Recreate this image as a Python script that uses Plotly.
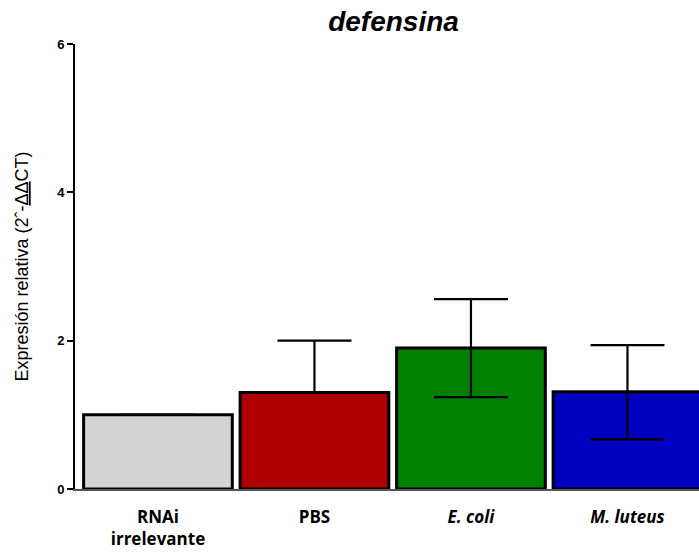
import plotly.graph_objects as go

categories = ["<b>RNAi<br>irrelevante</b>", "<b>PBS</b>", "<b><i>E. coli</i></b>", "<b><i>M. luteus</i></b>"]
values = [1.0, 1.3, 1.9, 1.31]
err_plus = [0.0, 0.7, 0.66, 0.63]
err_minus = [0.0, 0.0, 0.66, 0.64]
colors = ["#d3d3d3", "#ae0000", "#008000", "#0000c0"]
y_ticks = [0, 2, 4, 6]

fig = go.Figure()
fig.add_trace(go.Bar(
    x=list(range(len(categories))),
    y=values,
    width=0.95,
    marker=dict(color=colors, line=dict(color="black", width=3)),
    error_y=dict(type="data", symmetric=False, array=err_plus, arrayminus=err_minus,
                 color="black", thickness=2.2, width=37),
))

fig.update_layout(
    width=699, height=558,
    margin=dict(l=75, r=0, t=44, b=69),
    paper_bgcolor="white", plot_bgcolor="white",
    showlegend=False,
    title=dict(text="<b><i>defensina</i></b>", x=0.563, xanchor="center", y=0.962, yanchor="middle",
               font=dict(family="Liberation Sans, Arial", size=28, color="black")),
    xaxis=dict(
        range=[-0.53, 3.457],
        tickvals=list(range(len(categories))), ticktext=categories,
        showline=True, linecolor="#555555", linewidth=1.5,
        ticks="", showgrid=False, zeroline=False,
        ticklabelstandoff=12,
        tickfont=dict(family="Open Sans, Liberation Sans", size=17, color="black"),
    ),
    yaxis=dict(
        range=[0, 6], tickvals=y_ticks, ticktext=[str(v) for v in y_ticks],
        showline=True, linecolor="black", linewidth=2,
        ticks="outside", ticklen=6, tickwidth=2, tickcolor="black",
        showgrid=False, zeroline=False,
        tickfont=dict(family="Liberation Sans, Arial", size=13, color="black", weight="bold"),
        title=dict(text="Expresión relativa (2ˆ-<u>ΔΔ</u>CT)", standoff=24,
                   font=dict(family="Liberation Sans, Arial", size=18, color="black")),
    ),
)

fig.write_html("out.html")
